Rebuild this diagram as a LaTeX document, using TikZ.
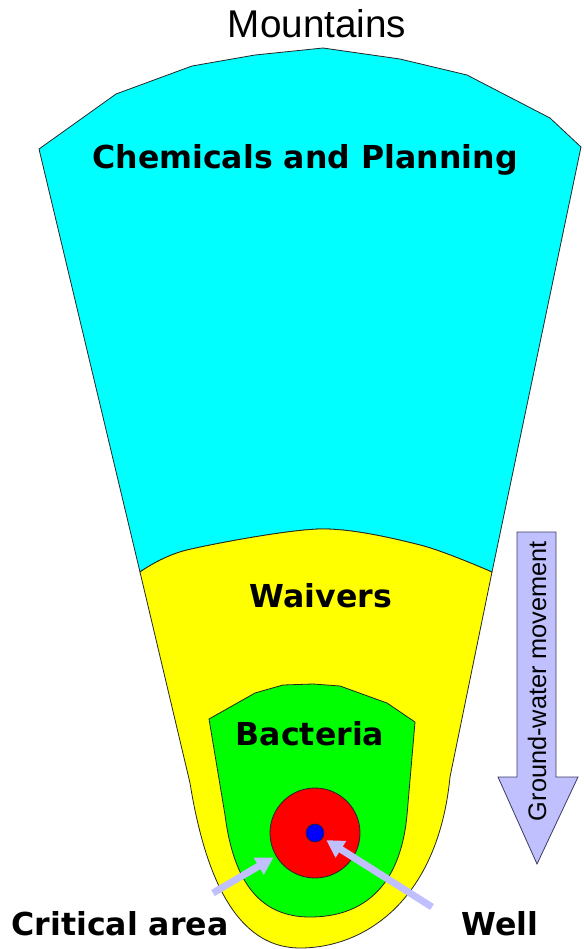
\documentclass[tikz,border=0pt]{standalone}
\usepackage{fontspec}
\newfontfamily\verd{DejaVu Sans}
\newfontfamily\arial{Liberation Sans}
\usetikzlibrary{arrows.meta}
\definecolor{lav}{RGB}{192,192,255}
\definecolor{arrowedge}{RGB}{60,60,100}
\definecolor{skyc}{RGB}{0,255,255}
\definecolor{yel}{RGB}{255,255,0}
\definecolor{grn}{RGB}{0,255,0}
\definecolor{rd}{RGB}{255,0,0}
\definecolor{bl}{RGB}{0,0,255}
\begin{document}
\begin{tikzpicture}[x=0.75pt,y=-0.75pt,
  region/.style={draw=black!85, line width=0.6pt, line join=round},
  lbl/.style={font=\verd\bfseries\fontsize{23.7}{28}\selectfont, inner sep=0pt, anchor=base},
  pointer/.style={draw=lav, line width=5.25pt, -{Triangle[length=13pt,width=14pt]}}]
\useasboundingbox (0,0) rectangle (583,949);
% cyan region
\draw[region, fill=skyc] (39,149) -- (116,94) -- (192,66) -- (255,55) -- (323,48) -- (400,59)
  -- (467,75) -- (550,118) -- (581,147) -- (492,572)
  -- plot[smooth] coordinates {(492,572) (420,545) (320,529) (187,550) (140,572)} -- cycle;
% yellow region
\draw[region, fill=yel] plot[smooth] coordinates {(140,572) (187,550) (320,529) (420,545) (492,572)}
  -- (450,777) .. controls (438,900) and (365,948) .. (300,948)
  .. controls (245,948) and (208,895) .. (190,783) -- cycle;
% green region
\draw[region, fill=grn] (209,719) -- (255,693) -- (283,685) -- (313,684) -- (340,686)
  -- (387,703) -- (415,722) -- (407,815) .. controls (400,890) and (360,917) .. (310,917)
  .. controls (262,917) and (234,885) .. (225,815) -- cycle;
% critical area and well
\node[circle, draw=black!85, line width=0.6pt, fill=rd, inner sep=0pt, minimum size=67.5pt] (crit) at (315,833) {};
\node[circle, draw=black!85, line width=0.5pt, fill=bl, inner sep=0pt, minimum size=13.5pt] (well) at (315,833) {};
% pointers
\coordinate (ctail) at (213,893);
\coordinate (wtail) at (432,907);
\draw[pointer, shorten >=2pt] (ctail) -- (crit);
\draw[pointer, shorten >=3pt] (wtail) -- (well);
% ground-water arrow
\draw[fill=lav, draw=arrowedge, line width=0.6pt, line join=miter] (517,532) -- (556,532) -- (556,777)
  -- (578,777) -- (537,864) -- (498,777) -- (517,777) -- cycle;
\node[rotate=90, font=\arial\fontsize{19}{22}\selectfont, inner sep=0pt] (gw) at (537,681) {Ground-water movement};
% labels
\node[font=\arial\fontsize{29}{34}\selectfont, inner sep=0pt, anchor=base] (mnt) at (317,38) {Mountains};
\node[lbl] (chem) at (305,168) {Chemicals and Planning};
\node[lbl] (waiv) at (321,607) {Waivers};
\node[lbl] (bact) at (310,745) {Bacteria};
\node[lbl] (crlbl) at (120,935) {Critical area};
\node[lbl] (welllbl) at (500,935) {Well};
\end{tikzpicture}
\end{document}
